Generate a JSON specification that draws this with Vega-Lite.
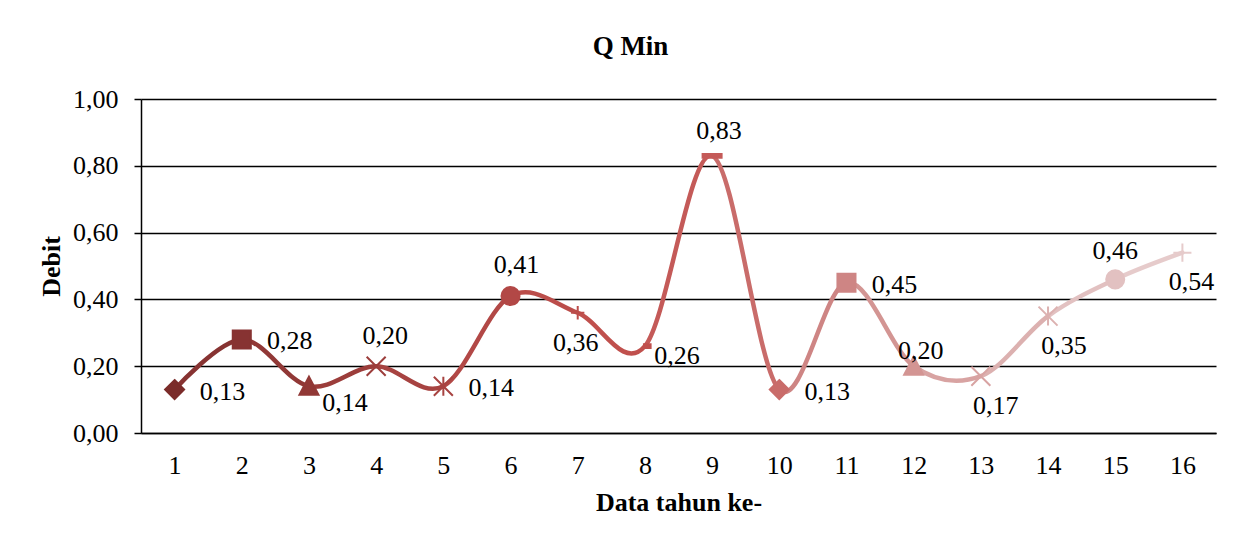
{
  "$schema": "https://vega.github.io/schema/vega-lite/v6.json",
  "width": 1075,
  "height": 334,
  "autosize": {"type": "none"},
  "padding": {"left": 141, "top": 99, "right": 42, "bottom": 106},
  "background": "white",
  "config": {
    "view": {"stroke": null},
    "font": "Liberation Serif",
    "locale": {"number": {"decimal": ",", "thousands": ".", "grouping": [3], "currency": ["", ""]}},
    "axis": {"labelFont": "Liberation Serif", "titleFont": "Liberation Serif", "labelColor": "black", "titleColor": "black", "labelFontSize": 26, "titleFontSize": 26, "titleFontWeight": "bold", "domainColor": "black", "domainWidth": 1.5, "tickColor": "black", "tickWidth": 1.5, "gridColor": "black", "gridWidth": 1.5, "gridOpacity": 1}
  },
  "title": {"text": "Q Min", "font": "Liberation Serif", "fontSize": 27, "fontWeight": "bold", "color": "black", "frame": "group", "anchor": "middle", "baseline": "alphabetic", "offset": 4, "dx": -48},
  "data": {"values": [
    {"n": 1, "v": 0.13}, {"n": 2, "v": 0.28}, {"n": 3, "v": 0.14}, {"n": 4, "v": 0.20},
    {"n": 5, "v": 0.14}, {"n": 6, "v": 0.41}, {"n": 7, "v": 0.36}, {"n": 8, "v": 0.26},
    {"n": 9, "v": 0.83}, {"n": 10, "v": 0.13}, {"n": 11, "v": 0.45}, {"n": 12, "v": 0.20},
    {"n": 13, "v": 0.17}, {"n": 14, "v": 0.35}, {"n": 15, "v": 0.46}, {"n": 16, "v": 0.54}
  ]},
  "encoding": {
    "x": {"field": "n", "type": "ordinal", "scale": {"type": "point", "padding": 0.5},
      "axis": {"title": "Data tahun ke-", "labelAngle": 0, "ticks": false, "tickSize": 0, "labelPadding": 19, "titlePadding": 11, "grid": false}},
    "y": {"field": "v", "type": "quantitative", "scale": {"domain": [0, 1]},
      "axis": {"title": "Debit", "values": [0, 0.2, 0.4, 0.6, 0.8, 1], "format": ".2f", "tickSize": 7, "labelPadding": 16, "titlePadding": 8, "grid": true}}
  },
  "layer": [
    {"mark": {"type": "line", "interpolate": "cardinal", "tension": 0, "strokeWidth": 4.5, "strokeCap": "round",
      "stroke": {"gradient": "linear", "x1": 0, "y1": 0, "x2": 1, "y2": 0, "stops": [
        {"offset": 0, "color": "#873332"}, {"offset": 0.0667, "color": "#873332"},
        {"offset": 0.0667, "color": "#913836"}, {"offset": 0.1333, "color": "#913836"},
        {"offset": 0.1333, "color": "#9C3D3B"}, {"offset": 0.2, "color": "#9C3D3B"},
        {"offset": 0.2, "color": "#A74341"}, {"offset": 0.2667, "color": "#A74341"},
        {"offset": 0.2667, "color": "#B24846"}, {"offset": 0.3333, "color": "#B24846"},
        {"offset": 0.3333, "color": "#BB4D4A"}, {"offset": 0.4, "color": "#BB4D4A"},
        {"offset": 0.4, "color": "#C0504D"}, {"offset": 0.4667, "color": "#C0504D"},
        {"offset": 0.4667, "color": "#C45A58"}, {"offset": 0.5333, "color": "#C45A58"},
        {"offset": 0.5333, "color": "#C96C6A"}, {"offset": 0.6, "color": "#C96C6A"},
        {"offset": 0.6, "color": "#CE8584"}, {"offset": 0.6667, "color": "#CE8584"},
        {"offset": 0.6667, "color": "#D39593"}, {"offset": 0.7333, "color": "#D39593"},
        {"offset": 0.7333, "color": "#D8A3A2"}, {"offset": 0.8, "color": "#D8A3A2"},
        {"offset": 0.8, "color": "#DCB1B0"}, {"offset": 0.8667, "color": "#DCB1B0"},
        {"offset": 0.8667, "color": "#E2C1C1"}, {"offset": 0.9333, "color": "#E2C1C1"},
        {"offset": 0.9333, "color": "#E6CBCB"}, {"offset": 1, "color": "#E6CBCB"}
      ]}},
      "encoding": {}},
    {"mark": {"type": "point", "filled": true, "strokeWidth": 2, "opacity": 1, "size": 361},
      "encoding": {
        "shape": {"field": "n", "type": "ordinal", "legend": null, "scale": {"domain": [1,2,3,4,5,6,7,8,9,10,11,12,13,14,15,16], "range": [
          "M0,-1L1,0L0,1L-1,0Z",
          "M-0.95,-0.95L0.95,-0.95L0.95,0.95L-0.95,0.95Z",
          "M0,-1L1,0.9L-1,0.9Z",
          "M-1,-1L1,1M-1,1L1,-1",
          "M-1,-1L1,1M-1,1L1,-1M0,-1L0,1",
          "M0.95,0A0.95,0.95,0,1,1,-0.95,0A0.95,0.95,0,1,1,0.95,0Z",
          "M-0.7,0L0.7,0M0,-0.7L0,0.7",
          "M-0.1,-0.2L0.6,-0.2L0.6,0.2L-0.1,0.2Z",
          "M-1,-0.2L1,-0.2L1,0.2L-1,0.2Z",
          "M0,-1L1,0L0,1L-1,0Z",
          "M-0.95,-0.95L0.95,-0.95L0.95,0.95L-0.95,0.95Z",
          "M0,-1L1,0.9L-1,0.9Z",
          "M-1,-1L1,1M-1,1L1,-1",
          "M-1,-1L1,1M-1,1L1,-1M0,-1L0,1",
          "M0.95,0A0.95,0.95,0,1,1,-0.95,0A0.95,0.95,0,1,1,0.95,0Z",
          "M-0.95,0L0.95,0M0,-0.95L0,0.95"
        ]}},
        "fill": {"field": "n", "type": "ordinal", "legend": null, "scale": {"domain": [1,2,3,4,5,6,7,8,9,10,11,12,13,14,15,16], "range": ["#7B2C2A","#873332","#913836","#9C3D3B","#A74341","#B24846","#BB4D4A","#C0504D","#C45A58","#C96C6A","#CE8584","#D39593","#D8A3A2","#DCB1B0","#E2C1C1","#E6CBCB"]}},
        "stroke": {"field": "n", "type": "ordinal", "legend": null, "scale": {"domain": [1,2,3,4,5,6,7,8,9,10,11,12,13,14,15,16], "range": ["#7B2C2A","#873332","#913836","#9C3D3B","#A74341","#B24846","#BB4D4A","#C0504D","#C45A58","#C96C6A","#CE8584","#D39593","#D8A3A2","#DCB1B0","#E2C1C1","#E6CBCB"]}}
      }},
    {"transform": [{"filter": {"field": "n", "oneOf": [1, 2, 5, 10, 11]}}],
      "mark": {"type": "text", "font": "Liberation Serif", "fontSize": 26, "color": "black", "align": "center", "baseline": "middle", "dx": 48, "dy": 2},
      "encoding": {"text": {"field": "v", "type": "quantitative", "format": ".2f"}}},
    {"transform": [{"filter": "datum.n == 3"}], "mark": {"type": "text", "font": "Liberation Serif", "fontSize": 26, "color": "black", "align": "center", "baseline": "middle", "dx": 36, "dy": 17}, "encoding": {"text": {"field": "v", "type": "quantitative", "format": ".2f"}}},
    {"transform": [{"filter": "datum.n == 4"}], "mark": {"type": "text", "font": "Liberation Serif", "fontSize": 26, "color": "black", "align": "center", "baseline": "middle", "dx": 9, "dy": -30}, "encoding": {"text": {"field": "v", "type": "quantitative", "format": ".2f"}}},
    {"transform": [{"filter": "datum.n == 6"}], "mark": {"type": "text", "font": "Liberation Serif", "fontSize": 26, "color": "black", "align": "center", "baseline": "middle", "dx": 6, "dy": -31}, "encoding": {"text": {"field": "v", "type": "quantitative", "format": ".2f"}}},
    {"transform": [{"filter": "datum.n == 7"}], "mark": {"type": "text", "font": "Liberation Serif", "fontSize": 26, "color": "black", "align": "center", "baseline": "middle", "dx": -2, "dy": 30}, "encoding": {"text": {"field": "v", "type": "quantitative", "format": ".2f"}}},
    {"transform": [{"filter": "datum.n == 8"}], "mark": {"type": "text", "font": "Liberation Serif", "fontSize": 26, "color": "black", "align": "center", "baseline": "middle", "dx": 32, "dy": 10}, "encoding": {"text": {"field": "v", "type": "quantitative", "format": ".2f"}}},
    {"transform": [{"filter": "datum.n == 9"}], "mark": {"type": "text", "font": "Liberation Serif", "fontSize": 26, "color": "black", "align": "center", "baseline": "middle", "dx": 7, "dy": -25}, "encoding": {"text": {"field": "v", "type": "quantitative", "format": ".2f"}}},
    {"transform": [{"filter": "datum.n == 12"}], "mark": {"type": "text", "font": "Liberation Serif", "fontSize": 26, "color": "black", "align": "center", "baseline": "middle", "dx": 7, "dy": -15}, "encoding": {"text": {"field": "v", "type": "quantitative", "format": ".2f"}}},
    {"transform": [{"filter": "datum.n == 13"}], "mark": {"type": "text", "font": "Liberation Serif", "fontSize": 26, "color": "black", "align": "center", "baseline": "middle", "dx": 15, "dy": 30}, "encoding": {"text": {"field": "v", "type": "quantitative", "format": ".2f"}}},
    {"transform": [{"filter": "datum.n == 14"}], "mark": {"type": "text", "font": "Liberation Serif", "fontSize": 26, "color": "black", "align": "center", "baseline": "middle", "dx": 16, "dy": 30}, "encoding": {"text": {"field": "v", "type": "quantitative", "format": ".2f"}}},
    {"transform": [{"filter": "datum.n == 15"}], "mark": {"type": "text", "font": "Liberation Serif", "fontSize": 26, "color": "black", "align": "center", "baseline": "middle", "dx": 0, "dy": -28}, "encoding": {"text": {"field": "v", "type": "quantitative", "format": ".2f"}}},
    {"transform": [{"filter": "datum.n == 16"}], "mark": {"type": "text", "font": "Liberation Serif", "fontSize": 26, "color": "black", "align": "center", "baseline": "middle", "dx": 9, "dy": 29}, "encoding": {"text": {"field": "v", "type": "quantitative", "format": ".2f"}}}
  ]
}
